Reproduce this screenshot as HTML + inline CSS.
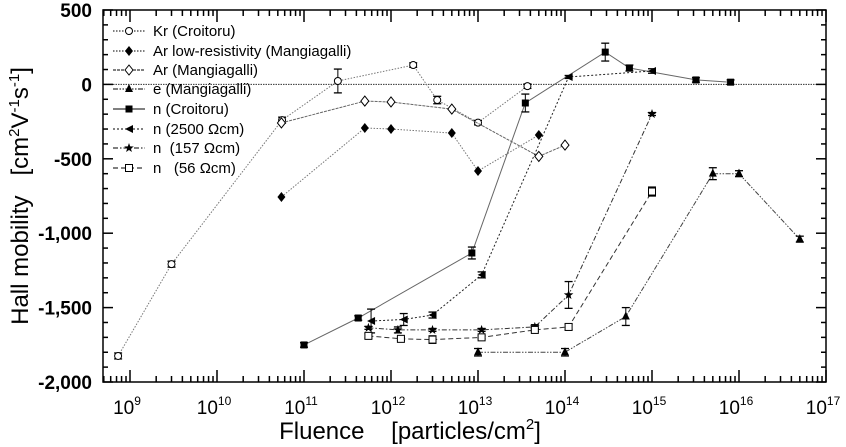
<!DOCTYPE html>
<html><head><meta charset="utf-8"><style>
html,body{margin:0;padding:0;background:#fff;}
svg{display:block;font-family:"Liberation Sans",Arial,sans-serif;}
.pre{white-space:pre;}
</style></head><body>
<svg id="chart" width="846" height="447" viewBox="0 0 846 447" xmlns="http://www.w3.org/2000/svg">
<g id="axes"></g>
<g id="series"></g>
<g id="legend"></g>
<text class="pre" transform="translate(28,196) rotate(-90)" text-anchor="middle" font-size="24">Hall mobility   [cm<tspan dy="-9" font-size="15">2</tspan><tspan dy="9">V</tspan><tspan dy="-9" font-size="15">-1</tspan><tspan dy="9">s</tspan><tspan dy="-9" font-size="15">-1</tspan><tspan dy="9">]</tspan></text>
<text class="pre" x="410" y="439" text-anchor="middle" font-size="24">Fluence    [particles/cm<tspan dy="-10" font-size="15">2</tspan><tspan dy="10">]</tspan></text>
</svg>
<script>
const seriesNames = ["Kr (Croitoru)","Ar low-resistivity (Mangiagalli)","Ar (Mangiagalli)","e (Mangiagalli)","n (Croitoru)","n (2500 \u03A9cm)","n  (157 \u03A9cm)","n   (56 \u03A9cm)"];
const krX = [7.3e8,3e9,5.6e10,2.45e11,1.8e12,3.4e12,1e13,3.7e13];
const krY = [-1825,-1208,-240,23,130,-105,-257,-12];
const krE = [20,20,20,80,15,25,15,15];
const arLowX = [5.5e10,5e11,1e12,5e12,1e13,5e13];
const arLowY = [-757,-293,-300,-327,-582,-340];
const arX = [5.5e10,5e11,1e12,5e12,5e13,1e14];
const arY = [-259,-112,-118,-166,-484,-408];
const eX = [1e13,1e14,5e14,5e15,1e16,5e16];
const eY = [-1800,-1800,-1560,-600,-600,-1040];
const eE = [25,25,60,40,20,20];
const nCroX = [1e11,4.2e11,8.5e12,3.5e13,2.9e14,5.5e14,3.2e15,8e15];
const nCroY = [-1751,-1570,-1133,-125,217,110,30,15];
const nCroE = [15,15,40,60,60,20,15,15];
const n2500X = [5.9e11,1.4e12,3e12,1.1e13,1.1e14,1e15];
const n2500Y = [-1590,-1580,-1550,-1280,50,90];
const n2500E = [80,40,20,20,10,15];
const n157X = [5.5e11,1.2e12,3e12,1.1e13,4.5e13,1.1e14,1e15];
const n157Y = [-1636,-1650,-1650,-1650,-1630,-1415,-199];
const n157E = [10,20,10,10,15,90,10];
const n56X = [5.5e11,1.3e12,3e12,1.1e13,4.5e13,1.1e14,1e15];
const n56Y = [-1690,-1710,-1715,-1700,-1650,-1630,-720];
const n56E = [15,10,25,10,10,20,30];
const yTicks = [500,0,-500,-1000,-1500,-2000];
const yTickLabels = ["500","0","-500","-1,000","-1,500","-2,000"];
const xDecades = [9,10,11,12,13,14,15,16,17];

const NS="http://www.w3.org/2000/svg";
const L=103,R=826,T=10,B=382;
function sx(v){return 130+(Math.log10(v)-9)*87;}
function sy(v){return T+(500-v)*(B-T)/2500;}
function mk(tag,attrs,parent){const e=document.createElementNS(NS,tag);for(const k in attrs)e.setAttribute(k,attrs[k]);parent.appendChild(e);return e;}
const axes=document.getElementById('axes'),ser=document.getElementById('series'),leg=document.getElementById('legend');

const frame=mk('rect',{x:L,y:T,width:R-L,height:B-T,fill:'none',stroke:'#000','stroke-width':1.5},axes);


const zl=mk('line',{x1:L,x2:R,y1:sy(0),y2:sy(0),stroke:'#333','stroke-width':1,'stroke-dasharray':'1.5 1'},axes);


for(let v=500;v>=-2000;v-=100){
  const major=(v%500===0);const len=major?10:5;const y=sy(v);
  mk('line',{x1:L,x2:L+len,y1:y,y2:y,stroke:'#000','stroke-width':1.5},axes);
  mk('line',{x1:R,x2:R-len,y1:y,y2:y,stroke:'#000','stroke-width':1.5},axes);
}
yTicks.forEach((v,i)=>{
  const t=mk('text',{x:92,y:sy(v)+7,'text-anchor':'end','font-size':19,'font-weight':'bold'},axes);
  t.textContent=yTickLabels[i];
  
  
});
for(let d=8;d<=17;d++){
  for(let m=1;m<10;m++){
    const v=m*Math.pow(10,d);const x=sx(v);if(x<L-0.5||x>R+0.5)continue;
    const len=m===1?12:6;
    mk('line',{x1:x,x2:x,y1:B,y2:B-len,stroke:'#000','stroke-width':1.5},axes);
    mk('line',{x1:x,x2:x,y1:T,y2:T+len,stroke:'#000','stroke-width':1.5},axes);
  }
}
xDecades.forEach(d=>{
  const t=mk('text',{x:sx(Math.pow(10,d))-3,y:414,'text-anchor':'middle','font-size':19},axes);
  
  
  t.appendChild(document.createTextNode('10'));
  const s=mk('tspan',{dy:-9,'font-size':12},t);s.textContent=String(d);
});

function marker(g,type,x,y){
  const s=4;
  if(type==='circle')return mk('circle',{cx:x,cy:y,r:3.5,fill:'#fff',stroke:'#000'},g);
  if(type==='diamondF')return mk('polygon',{points:`${x},${y-s-1} ${x+s},${y} ${x},${y+s+1} ${x-s},${y}`,fill:'#000'},g);
  if(type==='diamondO')return mk('polygon',{points:`${x},${y-s-1} ${x+s},${y} ${x},${y+s+1} ${x-s},${y}`,fill:'#fff',stroke:'#000'},g);
  if(type==='tri')return mk('polygon',{points:`${x},${y-s-1} ${x+s},${y+s-1} ${x-s},${y+s-1}`,fill:'#000'},g);
  if(type==='squareF')return mk('rect',{x:x-3.5,y:y-3.5,width:7,height:7,fill:'#000'},g);
  if(type==='squareO')return mk('rect',{x:x-3.5,y:y-3.5,width:7,height:7,fill:'#fff',stroke:'#000'},g);
  if(type==='triL')return mk('polygon',{points:`${x-s},${y} ${x+s},${y-s} ${x+s},${y+s}`,fill:'#000'},g);
  if(type==='star'){let p=[];for(let i=0;i<10;i++){const r=i%2?2:5;const a=-Math.PI/2+i*Math.PI/5;p.push((x+r*Math.cos(a)).toFixed(1)+','+(y+r*Math.sin(a)).toFixed(1));}return mk('polygon',{points:p.join(' '),fill:'#000'},g);}
}
const defs=[
 {name:'series-kr-croitoru',xs:krX,ys:krY,es:krE,m:'circle',dash:'1.5 1.5',col:'#777'},
 {name:'series-ar-low-resistivity',xs:arLowX,ys:arLowY,es:null,m:'diamondF',dash:'1.5 1.5',col:'#777'},
 {name:'series-ar-mangiagalli',xs:arX,ys:arY,es:null,m:'diamondO',dash:'3 1',col:'#666'},
 {name:'series-e-mangiagalli',xs:eX,ys:eY,es:eE,m:'tri',dash:'5 1.5 1.5 1.5 1.5 1.5',col:'#444'},
 {name:'series-n-croitoru',xs:nCroX,ys:nCroY,es:nCroE,m:'squareF',dash:'',col:'#666'},
 {name:'series-n-2500',xs:n2500X,ys:n2500Y,es:n2500E,m:'triL',dash:'2 2',col:'#222'},
 {name:'series-n-157',xs:n157X,ys:n157Y,es:n157E,m:'star',dash:'5 2 1.5 2',col:'#333'},
 {name:'series-n-56',xs:n56X,ys:n56Y,es:n56E,m:'squareO',dash:'5 3',col:'#333'}
];
defs.forEach((d,k)=>{
  const g=mk('g',{},ser);
  
  
  const pts=d.xs.map((x,i)=>sx(x).toFixed(1)+','+sy(d.ys[i]).toFixed(1)).join(' ');
  const pl=mk('polyline',{points:pts,fill:'none',stroke:d.col,'stroke-width':1,'stroke-dasharray':d.dash},g);
  
  
  d.xs.forEach((x,i)=>{
    const px=sx(x),py=sy(d.ys[i]);
    if(d.es){const e=d.es[i];const y1=sy(d.ys[i]+e),y2=sy(d.ys[i]-e);
      mk('line',{x1:px,x2:px,y1:y1,y2:y2,stroke:'#000'},g);
      mk('line',{x1:px-4,x2:px+4,y1:y1,y2:y1,stroke:'#000','stroke-width':1.3},g);
      mk('line',{x1:px-4,x2:px+4,y1:y2,y2:y2,stroke:'#000','stroke-width':1.3},g);}
    const m=marker(g,d.m,px,py);
    
    
  });
  const ly=[31,51,70,89,109,129,148,168][k];
  const lg=mk('g',{},leg);
  
  
  mk('line',{x1:113,x2:145,y1:ly,y2:ly,stroke:'#000','stroke-width':1,'stroke-dasharray':d.dash},lg);
  marker(lg,d.m,129,ly);
  const t=mk('text',{x:153,y:ly+5,'font-size':15},lg);
  t.setAttribute('class','pre');
  t.textContent=seriesNames[k];
});
</script>
</body></html>
